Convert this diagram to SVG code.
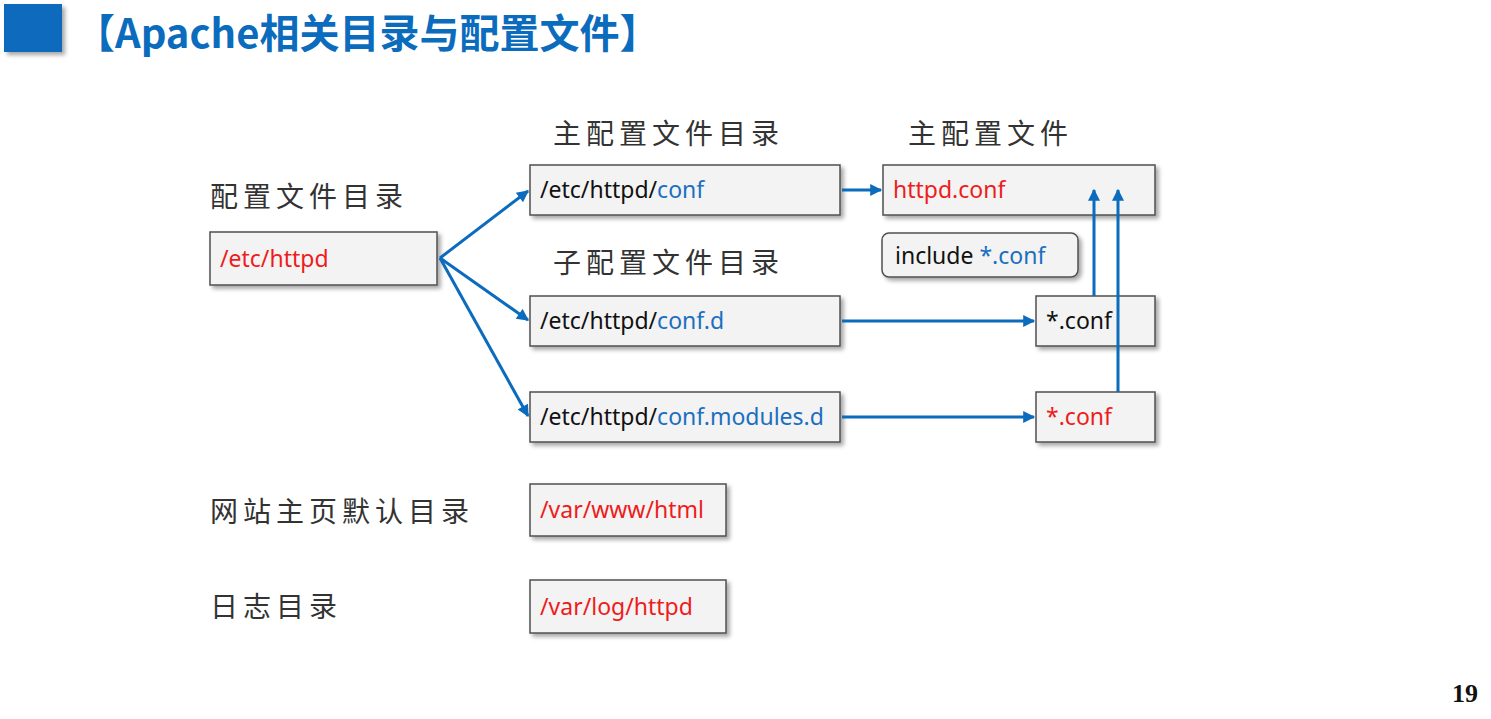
<svg xmlns="http://www.w3.org/2000/svg" width="1491" height="719" viewBox="0 0 1491 719">
<defs>
<filter id="sh" x="-10%" y="-20%" width="130%" height="150%">
<feDropShadow dx="3" dy="3" stdDeviation="2" flood-color="#000" flood-opacity="0.35"/>
</filter>
<marker id="ah" viewBox="0 0 10 10" refX="9" refY="5" markerWidth="4.5" markerHeight="4" orient="auto" markerUnits="strokeWidth">
<path d="M0,0 L10,5 L0,10 z" fill="#0b6bbd"/>
</marker>
<style>
.box{fill:#f3f3f3;stroke:#505050;stroke-width:1.5;filter:url(#sh)}
.t{font-family:"Noto Sans","Open Sans","Liberation Sans",sans-serif;font-size:23px;fill:#111}
.red{fill:#ee1c1c}
.blue{fill:#1a6fc0}
.lbl{font-family:"Noto Sans CJK SC","Noto Sans",sans-serif;font-size:28px;fill:#333;letter-spacing:5px}
.c{fill:none;stroke:#0b6bbd;stroke-width:3;marker-end:url(#ah)}
</style>
</defs>
<rect width="1491" height="719" fill="#fff"/>
<g id="title">
<rect x="4" y="4" width="58" height="48" fill="#0b6bbd" filter="url(#sh)"/>
<text x="75" y="48" font-family="Noto Sans CJK SC,Noto Sans,sans-serif" font-weight="bold" font-size="40" fill="#0b6bbd">【Apache相关目录与配置文件】</text>
</g>
<g id="labels">
<text class="lbl" x="210" y="207">配置文件目录</text>
<text class="lbl" x="553" y="144">主配置文件目录</text>
<text class="lbl" x="908" y="144">主配置文件</text>
<text class="lbl" x="553" y="273">子配置文件目录</text>
<text class="lbl" x="210" y="522">网站主页默认目录</text>
<text class="lbl" x="210" y="617">日志目录</text>
</g>
<g id="n-etc">
<rect class="box" x="210" y="232" width="227" height="53"/>
<text class="t red" x="220" y="267">/etc/httpd</text>
</g>
<g id="n-conf">
<rect class="box" x="530" y="165" width="310" height="50"/>
<text class="t" x="540" y="198">/etc/httpd/<tspan class="blue">conf</tspan></text>
</g>
<g id="n-confd">
<rect class="box" x="530" y="296" width="310" height="50"/>
<text class="t" x="540" y="329">/etc/httpd/<tspan class="blue">conf.d</tspan></text>
</g>
<g id="n-modules">
<rect class="box" x="530" y="392" width="310" height="50"/>
<text class="t" x="540" y="425">/etc/httpd/<tspan class="blue">conf.modules.d</tspan></text>
</g>
<g id="n-httpdconf">
<rect class="box" x="883" y="165" width="272" height="50"/>
<text class="t red" x="893" y="198">httpd.conf</text>
</g>
<g id="n-include">
<rect class="box" x="882" y="233" width="196" height="44" rx="7" ry="7"/>
<text class="t" x="895" y="264">include <tspan class="blue">*.conf</tspan></text>
</g>
<g id="n-star1">
<rect class="box" x="1036" y="296" width="119" height="50"/>
<text class="t" x="1046" y="329">*.conf</text>
</g>
<g id="n-star2">
<rect class="box" x="1036" y="392" width="119" height="50"/>
<text class="t red" x="1046" y="425">*.conf</text>
</g>
<g id="n-www">
<rect class="box" x="530" y="484" width="196" height="52"/>
<text class="t red" x="540" y="518">/var/www/html</text>
</g>
<g id="n-log">
<rect class="box" x="530" y="580" width="196" height="53"/>
<text class="t red" x="540" y="615">/var/log/httpd</text>
</g>
<g id="connectors">
<path class="c" d="M440,258 L528,191"/>
<path class="c" d="M440,258 L528,320"/>
<path class="c" d="M440,258 L528,416"/>
<path class="c" d="M842,190 L881,190"/>
<path class="c" d="M842,321 L1034,321"/>
<path class="c" d="M842,417 L1034,417"/>
<path class="c" d="M1094,296 L1094,190"/>
<path class="c" d="M1118,392 L1118,190"/>
</g>
<text x="1452" y="702" font-family="Liberation Serif,serif" font-weight="bold" font-size="26" fill="#111">19</text>
</svg>
